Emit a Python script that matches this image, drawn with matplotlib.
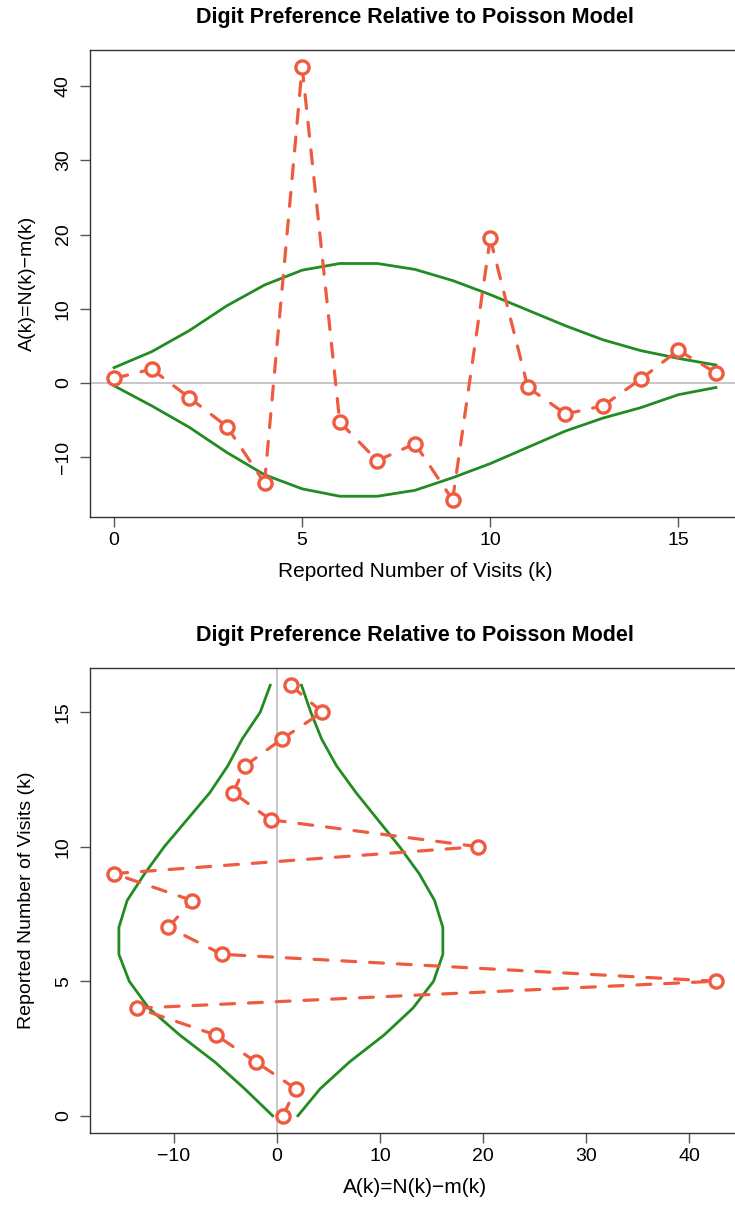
import matplotlib
matplotlib.use("Agg")
import matplotlib.pyplot as plt

plt.rcParams['font.family'] = ['Liberation Sans', 'DejaVu Sans']
plt.rcParams['lines.scale_dashes'] = False

# reported number of visits k and observed deviation A(k) = N(k) - m(k)
k = list(range(17))
a_k = [0.6, 1.85, -2.0, -5.9, -13.5, 42.6, -5.3, -10.5, -8.2, -15.8,
       19.5, -0.6, -4.2, -3.1, 0.5, 4.4, 1.35]
# Poisson envelope
upper = [2.05, 4.2, 7.05, 10.4, 13.2, 15.2, 16.1, 16.1, 15.3, 13.8,
         11.9, 9.8, 7.7, 5.8, 4.35, 3.3, 2.4]
lower = [-0.4, -3.1, -6.0, -9.4, -12.4, -14.3, -15.3, -15.3, -14.5, -12.8,
         -10.9, -8.7, -6.5, -4.75, -3.35, -1.6, -0.63]

red = '#EF5B40'
green = '#228B22'
title = 'Digit Preference Relative to Poisson Model'
neg_ticks = ['\u221210', '0', '10', '20', '30', '40']


def draw_points(ax, xs, ys):
    # each segment starts a new dash, like R's type="o"
    for i in range(len(xs) - 1):
        ax.plot(xs[i:i + 2], ys[i:i + 2], color=red, lw=2.3,
                dashes=(10, 10), dash_capstyle='round', zorder=3)
    ax.plot(xs, ys, 'o', ms=9.5, mew=2.4, mfc='white', mec=red, zorder=4)


def style(ax):
    ax.spines['right'].set_visible(False)
    for s in ['left', 'bottom', 'top']:
        ax.spines[s].set_color('#333333')
        ax.spines[s].set_linewidth(1.0)
    ax.tick_params(direction='out', length=7, width=1, color='#555555',
                   labelsize=14, pad=4)
    ax.tick_params(axis='y', pad=6)


fig = plt.figure(figsize=(7.35, 12.05), dpi=100)

# top panel
ax1 = fig.add_axes([90 / 735, 1 - 517 / 1205, 650 / 735, 467 / 1205])
ax1.axhline(0, color='#BEBEBE', lw=1.2, zorder=1)
ax1.plot(k, upper, color=green, lw=2, zorder=2)
ax1.plot(k, lower, color=green, lw=2, zorder=2)
draw_points(ax1, k, a_k)
ax1.set_xlim(-0.64, 16.64)
ax1.set_ylim(-18.1, 44.9)
ax1.set_xticks([0, 5, 10, 15])
ax1.set_yticks([-10, 0, 10, 20, 30, 40])
ax1.set_yticklabels(neg_ticks, rotation=90, va='center')
style(ax1)
ax1.set_xlabel('Reported Number of Visits (k)', fontsize=15, labelpad=9)
ax1.set_ylabel('A(k)=N(k)\u2212m(k)', fontsize=14, labelpad=14)
fig.text(415 / 735, 1 - 18 / 1205, title, ha='center', va='center',
         fontsize=15.5, fontweight='bold')

# bottom panel (transposed)
ax2 = fig.add_axes([90 / 735, 1 - 1133 / 1205, 650 / 735, 465 / 1205])
ax2.axvline(0, color='#BEBEBE', lw=1.2, zorder=1)
ax2.plot(upper, k, color=green, lw=2, zorder=2)
ax2.plot(lower, k, color=green, lw=2, zorder=2)
draw_points(ax2, a_k, k)
ax2.set_xlim(-18.1, 44.9)
ax2.set_ylim(-0.64, 16.64)
ax2.set_xticks([-10, 0, 10, 20, 30, 40])
ax2.set_xticklabels(neg_ticks)
ax2.set_yticks([0, 5, 10, 15])
ax2.set_yticklabels(['0', '5', '10', '15'], rotation=90, va='center')
style(ax2)
ax2.set_xlabel('A(k)=N(k)\u2212m(k)', fontsize=15, labelpad=9)
ax2.set_ylabel('Reported Number of Visits (k)', fontsize=14, labelpad=14)
fig.text(415 / 735, 1 - 635 / 1205, title, ha='center', va='center',
         fontsize=15.5, fontweight='bold')

fig.savefig('out.png', dpi=100)
